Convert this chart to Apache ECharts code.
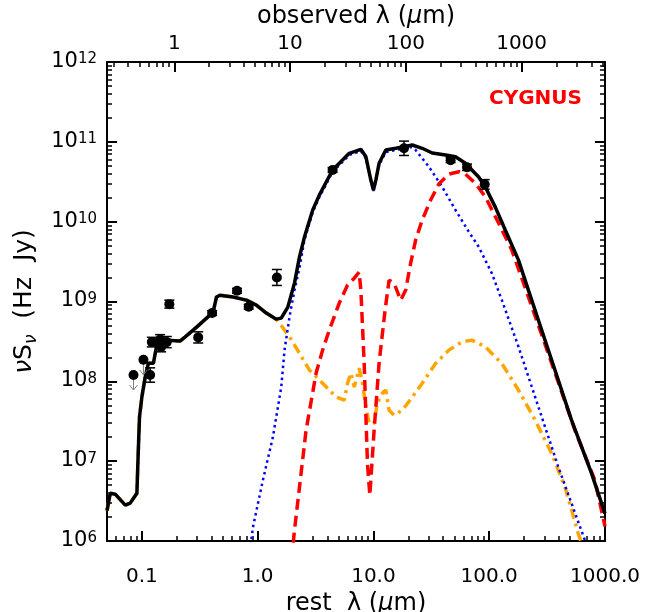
<!DOCTYPE html>
<html><head><meta charset="utf-8">
<script src="https://cdn.jsdelivr.net/npm/echarts@6/dist/echarts.min.js"></script>
<style>html,body{margin:0;padding:0;background:#fff}#c{width:649px;height:612px}</style>
</head><body><div id="c"></div>
<script>
// ---- data (rest wavelength in micron, nuS_nu in Hz Jy) ----
const onePlusZ = 5.25;
const bottomTickValues = [0.1, 1, 10, 100, 1000];
const bottomTickLabels = ['0.1', '1.0', '10.0', '100.0', '1000.0'];
const topTickValues = [1, 10, 100, 1000];
const topTickLabels = ['1', '10', '100', '1000'];
const yTickExponents = [6, 7, 8, 9, 10, 11, 12];

const totalLam = [0.05,0.0534,0.0589,0.0719,0.0793,0.0906,0.0929,0.0954,0.1,0.1068,0.114,0.1258,0.1346,0.1437,0.164,0.2135,0.2356,0.2971,0.3622,0.4126,0.4414,0.4714,0.6133,0.7996,0.9745,1.188,1.448,1.599,1.822,2.08,2.296,2.536,2.99,3.41,4.44,6.18,7.79,8.61,9.5,10.0,10.49,11.19,12.79,15.58,18.37,21.64,26.38,32.17,41.93,51.1,62.3,81.1,92.6,112.9,137.6,179,232.8,346,514,764,1000];
const totalFlux = [2.4e6,3.97e6,3.86e6,2.81e6,2.98e6,3.97e6,1.19e7,3.56e7,6.34e7,1.13e8,1.69e8,1.69e8,2.84e8,3.19e8,3.28e8,3.19e8,3.58e8,4.78e8,6.19e8,7.36e8,1.14e9,1.20e9,1.14e9,1.04e9,9.02e8,7.16e8,6.01e8,6.19e8,8.51e8,1.70e9,3.60e9,6.41e9,1.40e10,2.15e10,4.44e10,7.18e10,8.05e10,6.50e10,3.32e10,2.49e10,3.32e10,5.38e10,7.89e10,8.30e10,8.69e10,9.12e10,8.30e10,7.24e10,6.84e10,6.50e10,5.38e10,3.62e10,2.72e10,1.52e10,7.85e9,3.30e9,1.04e9,1.85e8,3.27e7,7.08e6,2.2e6];

const sbLam = [1.96,2.08,2.62,3.20,3.64,4.16,5.07,5.98,6.83,7.53,7.79,8.32,8.88,9.31,10.14,11.19,12.61,13.65,15.07,17.2,19.0,20.97,23.15,26.38,31.2,36.7,44.8,54.6,62.3,75.9,92.6,120.5,156.8,218,346,550,817,1000];
const sbFlux = [5.7e5,1.36e6,2.44e7,1.27e8,2.46e8,4.39e8,9.55e8,1.61e9,1.96e9,2.33e9,1.39e9,1.69e8,9.44e6,3.75e6,2.44e7,1.69e8,7.80e8,1.85e9,1.70e9,1.04e9,1.39e9,3.03e9,5.88e9,1.05e10,1.87e10,2.96e10,3.95e10,4.22e10,3.95e10,3.02e10,2.05e10,9.6e9,4.41e9,1.14e9,1.69e8,2.44e7,5.78e6,1.53e6];

const agnLam = [0.87,0.911,1.11,1.354,1.599,1.707,1.884,2.08,2.296,2.536,2.99,3.41,4.44,6.18,7.79,8.61,9.5,10.0,10.49,11.19,12.79,15.58,18.37,20.7,23.15,30.1,39.2,51.1,66.5,81.1,105.5,128.6,179,266,395,671,745];
const agnFlux = [8.9e5,1.49e6,5.78e6,2.0e7,8.45e7,2.46e8,6.38e8,1.39e9,2.62e9,5.88e9,1.32e10,2.03e10,4.19e10,6.84e10,7.67e10,6.27e10,3.23e10,2.42e10,3.23e10,5.12e10,7.45e10,7.89e10,8.36e10,8.61e10,7.89e10,4.88e10,2.74e10,1.40e10,7.5e9,4.85e9,2.25e9,1.04e9,2.71e8,4.79e7,8.49e6,1.02e6,5.7e5];

const starLam = [0.05,0.0534,0.0589,0.0719,0.0793,0.0906,0.0929,0.0954,0.1,0.1068,0.114,0.1258,0.1346,0.1437,0.164,0.2135,0.2356,0.2971,0.3622,0.4126,0.4414,0.4714,0.6133,0.7996,0.9745,1.188,1.448,1.546,1.884,2.296,2.8,3.20,3.90,4.75,5.60,5.98,6.39,6.83,7.53,8.04,8.61,9.18,10.14,10.8,11.96,12.79,13.65,15.07,17.76,21.64,26.38,34.4,44.8,58.3,71.0,92.6,128.6,179,249,346,451,587,635];
const starFlux = [2.4e6,3.97e6,3.86e6,2.81e6,2.98e6,3.97e6,1.19e7,3.56e7,6.34e7,1.13e8,1.69e8,1.69e8,2.84e8,3.19e8,3.28e8,3.19e8,3.58e8,4.78e8,6.19e8,7.36e8,1.14e9,1.20e9,1.14e9,1.04e9,9.02e8,7.16e8,6.01e8,5.36e8,3.61e8,2.25e8,1.38e8,1.14e8,8.53e7,6.39e7,5.81e7,9.48e7,1.27e8,8.45e7,1.46e8,9.48e7,4.75e7,2.99e7,2.99e7,5.33e7,7.11e7,7.76e7,4.35e7,3.77e7,4.35e7,6.34e7,9.48e7,1.67e8,2.46e8,3.12e8,3.28e8,2.71e8,1.67e8,7.76e7,3.27e7,1.25e7,4.76e6,1.25e6,8.9e5];

const obsLam = [0.1179,0.1219,0.1437,0.1466,0.164,0.1727,0.3067,0.4045,0.6637,0.837,1.466,4.44,18.37,46.4,64.3,91.4];
const obsFlux = [1.20e8,3.10e8,3.35e8,2.69e8,3.10e8,9.27e8,3.55e8,7.16e8,1.36e9,8.59e8,2.00e9,4.44e10,8.3e10,5.9e10,4.8e10,2.93e10];
const obsErrDex = [0.09,0.06,0.06,0.06,0.07,0.05,0.07,0.03,0.03,0.03,0.10,0.03,0.09,0.03,0.04,0.06];

const limLam = [0.0847, 0.1032];
const limFlux = [1.2e8, 1.86e8];

// ---- helpers ----
const L = Math.log10;
const FONT = 'DejaVu Sans';
const pairs = (xs, ys) => xs.map((x, i) => [L(x), L(ys[i])]);
const minorVals = (lo, hi, f) => {
  const out = [];
  for (let n = -3; n <= 12; n++) for (let k = 2; k <= 9; k++) {
    const v = k * Math.pow(10, n);
    const r = f(v);
    if (r >= lo - 1e-9 && r <= hi + 1e-9) out.push(L(r));
  }
  return out;
};
const xMin = L(0.05), xMax = L(1000), yMin = 6, yMax = 12;

const baseAxis = {min: xMin, max: xMax, type: 'value', splitLine: {show: false}};
const lineStyleAxis = {show: true, onZero: false, lineStyle: {color: '#000', width: 2}};
const hiddenLine = {show: false, onZero: false};
const titleRich = {
  n: {fontFamily: FONT, fontSize: 24, color: '#000'},
  i: {fontFamily: FONT, fontSize: 24, fontStyle: 'italic', color: '#000'}
};

const xAxes = [
  Object.assign({}, baseAxis, {
    position: 'bottom', axisLine: lineStyleAxis,
    axisTick: {show: true, inside: true, length: 10, lineStyle: {color: '#000', width: 2}, customValues: bottomTickValues.map(L)},
    axisLabel: {show: true, customValues: bottomTickValues.map(L), margin: 26, color: '#000', fontFamily: FONT, fontSize: 20,
      formatter: v => { const i = bottomTickValues.findIndex(t => Math.abs(L(t) - v) < 1e-6); return i >= 0 ? bottomTickLabels[i] : ''; }},
    name: '{n|rest  λ (}{i|μ}{n|m)}', nameLocation: 'middle', nameGap: 39,
    nameTextStyle: {rich: titleRich}
  }),
  Object.assign({}, baseAxis, {
    position: 'bottom', axisLine: hiddenLine,
    axisTick: {show: true, inside: true, length: 5, lineStyle: {color: '#000', width: 1.5}, customValues: minorVals(0.05, 1000, v => v)},
    axisLabel: {show: false}
  }),
  Object.assign({}, baseAxis, {
    position: 'top', axisLine: lineStyleAxis,
    axisTick: {show: true, inside: true, length: 10, lineStyle: {color: '#000', width: 2}, customValues: topTickValues.map(v => L(v / onePlusZ))},
    axisLabel: {show: true, customValues: topTickValues.map(v => L(v / onePlusZ)), margin: 8, color: '#000', fontFamily: FONT, fontSize: 20,
      formatter: v => { const i = topTickValues.findIndex(t => Math.abs(L(t / onePlusZ) - v) < 1e-6); return i >= 0 ? topTickLabels[i] : ''; }},
    name: '{n|observed λ (}{i|μ}{n|m)}', nameLocation: 'middle', nameGap: 30,
    nameTextStyle: {rich: titleRich}
  }),
  Object.assign({}, baseAxis, {
    position: 'top', axisLine: hiddenLine,
    axisTick: {show: true, inside: true, length: 5, lineStyle: {color: '#000', width: 1.5}, customValues: minorVals(0.05, 1000, v => v / onePlusZ)},
    axisLabel: {show: false}
  })
];

const baseY = {type: 'value', min: yMin, max: yMax, splitLine: {show: false}};
const yAxes = [
  Object.assign({}, baseY, {
    position: 'left', axisLine: lineStyleAxis,
    axisTick: {show: true, inside: true, length: 10, lineStyle: {color: '#000', width: 2}, customValues: yTickExponents},
    axisLabel: {show: true, customValues: yTickExponents, margin: 10,
      formatter: v => '{b|10}{s|' + Math.round(v) + '}',
      rich: {
        b: {fontFamily: FONT, fontSize: 21, color: '#000', lineHeight: 20, verticalAlign: 'bottom'},
        s: {fontFamily: FONT, fontSize: 15, color: '#000', lineHeight: 14, verticalAlign: 'top', padding: [0, 0, 14, 0]}
      }},
    name: '{i|ν}{n|S}{sub|ν}{n|  (Hz  Jy)}', nameLocation: 'middle', nameGap: 66, nameRotate: 90,
    nameTextStyle: {rich: {
      n: {fontFamily: FONT, fontSize: 25, color: '#000', lineHeight: 28, verticalAlign: 'top'},
      i: {fontFamily: FONT, fontSize: 25, color: '#000', fontStyle: 'italic', lineHeight: 28, verticalAlign: 'top'},
      sub: {fontFamily: FONT, fontSize: 17, color: '#000', fontStyle: 'italic', lineHeight: 17, verticalAlign: 'bottom', padding: [14, 0, 0, 0]}
    }}
  }),
  Object.assign({}, baseY, {
    position: 'left', axisLine: hiddenLine,
    axisTick: {show: true, inside: true, length: 5, lineStyle: {color: '#000', width: 1.5}, customValues: minorVals(1e6, 1e12, v => v)},
    axisLabel: {show: false}
  }),
  Object.assign({}, baseY, {
    position: 'right', axisLine: lineStyleAxis,
    axisTick: {show: true, inside: true, length: 10, lineStyle: {color: '#000', width: 2}, customValues: yTickExponents},
    axisLabel: {show: false}
  }),
  Object.assign({}, baseY, {
    position: 'right', axisLine: hiddenLine,
    axisTick: {show: true, inside: true, length: 5, lineStyle: {color: '#000', width: 1.5}, customValues: minorVals(1e6, 1e12, v => v)},
    axisLabel: {show: false}
  })
];

const lineSeries = (name, xs, ys, color, width, type, z) => ({
  name, type: 'line', data: pairs(xs, ys), showSymbol: false, symbol: 'none', clip: true, z,
  lineStyle: {color, width, type}, animation: false
});

const errData = obsLam.map((x, i) => [L(x), L(obsFlux[i]) - obsErrDex[i], L(obsFlux[i]) + obsErrDex[i]]);

const option = {
  animation: false,
  backgroundColor: '#fff',
  grid: {left: 107, right: 44, top: 62, bottom: 71, containLabel: false, outerBoundsMode: 'none'},
  xAxis: xAxes,
  yAxis: yAxes,
  title: {text: 'CYGNUS', right: 62, top: 84, textStyle: {color: '#ff0000', fontFamily: FONT, fontSize: 20, fontWeight: 'bold'}},
  series: [
    lineSeries('stars', starLam, starFlux, '#ffa500', 3.5, [10, 5, 3, 5], 2),
    lineSeries('agn', agnLam, agnFlux, '#0000ff', 2.5, [2.5, 3.5], 3),
    lineSeries('starburst', sbLam, sbFlux, '#ff0000', 3.5, [11, 6], 4),
    lineSeries('total', totalLam, totalFlux, '#000000', 3.5, 'solid', 5),
    {
      type: 'custom', z: 6, data: errData, clip: true,
      renderItem: (params, api) => {
        const x = api.value(0);
        const p1 = api.coord([x, api.value(1)]), p2 = api.coord([x, api.value(2)]);
        const hw = 5, st = {stroke: '#000', lineWidth: 1.5};
        return {type: 'group', children: [
          {type: 'line', shape: {x1: p1[0], y1: p1[1], x2: p2[0], y2: p2[1]}, style: st},
          {type: 'line', shape: {x1: p1[0] - hw, y1: p1[1], x2: p1[0] + hw, y2: p1[1]}, style: st},
          {type: 'line', shape: {x1: p2[0] - hw, y1: p2[1], x2: p2[0] + hw, y2: p2[1]}, style: st}
        ]};
      }
    },
    {
      type: 'custom', z: 6, data: pairs(limLam, limFlux), clip: true,
      renderItem: (params, api) => {
        const p = api.coord([api.value(0), api.value(1)]);
        const st = {stroke: '#808080', lineWidth: 1, fill: null};
        return {type: 'group', children: [
          {type: 'line', shape: {x1: p[0], y1: p[1], x2: p[0], y2: p[1] + 15}, style: st},
          {type: 'polyline', shape: {points: [[p[0] - 4, p[1] + 10], [p[0], p[1] + 15], [p[0] + 4, p[1] + 10]]}, style: st}
        ]};
      }
    },
    {type: 'scatter', z: 7, data: pairs(obsLam, obsFlux), symbol: 'circle', symbolSize: 10, itemStyle: {color: '#000', opacity: 1}},
    {type: 'scatter', z: 7, data: pairs(limLam, limFlux), symbol: 'circle', symbolSize: 10, itemStyle: {color: '#000', opacity: 1}}
  ]
};

const chart = echarts.init(document.getElementById('c'), null, {renderer: 'canvas'});
chart.setOption(option);
</script>
</body></html>
